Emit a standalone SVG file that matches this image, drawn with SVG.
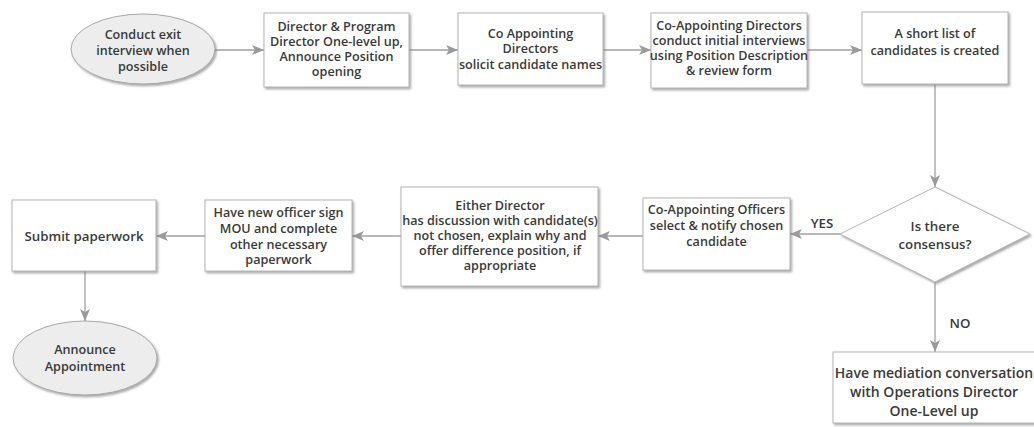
<svg xmlns="http://www.w3.org/2000/svg" width="1034" height="427" viewBox="0 0 1034 427">
<defs>
<filter id="sh" x="-10%" y="-10%" width="130%" height="130%">
<feDropShadow dx="1.5" dy="1.8" stdDeviation="0.9" flood-color="#777" flood-opacity="0.65"/>
</filter>
<marker id="ah" viewBox="0 0 12 10" refX="12" refY="5" markerWidth="12" markerHeight="10" markerUnits="userSpaceOnUse" orient="auto">
<path d="M0,0 L12,5 L0,10 L3,5 z" fill="#9a9a9a"/>
</marker>
<style>
.box{fill:#ffffff;stroke:#b4b4b4;stroke-width:1;filter:url(#sh)}
.ell{fill:#ededed;stroke:#a8a8a8;stroke-width:1;filter:url(#sh)}
.t{font-family:"Open Sans","Noto Sans","Liberation Sans",sans-serif;font-weight:600;font-size:12.6px;fill:#3a3a3a;text-anchor:middle}
.big{font-size:14px}
.mid{font-size:13.3px}
.conn{stroke:#a0a0a0;stroke-width:1.3;fill:none;marker-end:url(#ah)}
</style>
</defs>
<rect width="1034" height="427" fill="#ffffff"/>

<g id="connectors">
<path class="conn" d="M215,50 H264"/>
<path class="conn" d="M409,50 H458"/>
<path class="conn" d="M603,50 H651"/>
<path class="conn" d="M807,50 H862"/>
<path class="conn" d="M935,84 V187"/>
<path class="conn" d="M840,234 H790"/>
<path class="conn" d="M643,236 H598"/>
<path class="conn" d="M402,236 H352"/>
<path class="conn" d="M205,236 H156"/>
<path class="conn" d="M85,271 V321"/>
<path class="conn" d="M935,282 V352"/>
<text class="t mid" x="822" y="228">YES</text>
<text class="t mid" x="960" y="328">NO</text>
</g>

<g id="n1">
<ellipse class="ell" cx="143" cy="49" rx="72" ry="35"/>
<text class="t" x="143" y="39">Conduct exit</text>
<text class="t" x="143" y="55">interview when</text>
<text class="t" x="143" y="71">possible</text>
</g>

<g id="n2">
<rect class="box" x="264" y="13" width="145" height="74"/>
<text class="t" x="336.5" y="31">Director &amp; Program</text>
<text class="t" x="336.5" y="46">Director One-level up,</text>
<text class="t" x="336.5" y="61">Announce Position</text>
<text class="t" x="336.5" y="76">opening</text>
</g>

<g id="n3">
<rect class="box" x="458" y="13" width="145" height="72"/>
<text class="t" x="530.5" y="38">Co Appointing</text>
<text class="t" x="530.5" y="53">Directors</text>
<text class="t" x="530.5" y="69">solicit candidate names</text>
</g>

<g id="n4">
<rect class="box" x="651" y="13" width="156" height="75"/>
<text class="t" x="729" y="30">Co-Appointing Directors</text>
<text class="t" x="729" y="45">conduct initial interviews</text>
<text class="t" x="729" y="60">using Position Description</text>
<text class="t" x="729" y="75">&amp; review form</text>
</g>

<g id="n5">
<rect class="box" x="862" y="12" width="146" height="72"/>
<text class="t" x="935" y="38">A short list of</text>
<text class="t" x="935" y="55">candidates is created</text>
</g>

<g id="n6">
<polygon class="box" points="935,187 1030,234 935,282 840,234"/>
<text class="t mid" x="935" y="231">Is there</text>
<text class="t mid" x="935" y="249">consensus?</text>
</g>

<g id="n7">
<rect class="box" x="643" y="198" width="147" height="72"/>
<text class="t" x="716.5" y="214">Co-Appointing Officers</text>
<text class="t" x="716.5" y="230">select &amp; notify chosen</text>
<text class="t" x="716.5" y="246">candidate</text>
</g>

<g id="n8">
<rect class="box" x="401" y="187" width="197" height="99"/>
<text class="t" x="500" y="210">Either Director</text>
<text class="t" x="500" y="225">has discussion with candidate(s)</text>
<text class="t" x="500" y="240">not chosen, explain why and</text>
<text class="t" x="500" y="255">offer difference position, if</text>
<text class="t" x="500" y="270">appropriate</text>
</g>

<g id="n9">
<rect class="box" x="205" y="200" width="147" height="71"/>
<text class="t" x="278.5" y="217">Have new officer sign</text>
<text class="t" x="278.5" y="233">MOU and complete</text>
<text class="t" x="278.5" y="249">other necessary</text>
<text class="t" x="278.5" y="264">paperwork</text>
</g>

<g id="n10">
<rect class="box" x="12" y="200" width="144" height="71"/>
<text class="t mid" x="84" y="241">Submit paperwork</text>
</g>

<g id="n11">
<ellipse class="ell" cx="85" cy="358" rx="72" ry="37"/>
<text class="t" x="85" y="354">Announce</text>
<text class="t" x="85" y="371">Appointment</text>
</g>

<g id="n12">
<rect class="box" x="833" y="352" width="210" height="71"/>
<text class="t big" x="934" y="378">Have mediation conversation</text>
<text class="t big" x="934" y="397">with Operations Director</text>
<text class="t big" x="934" y="416">One-Level up</text>
</g>
</svg>
